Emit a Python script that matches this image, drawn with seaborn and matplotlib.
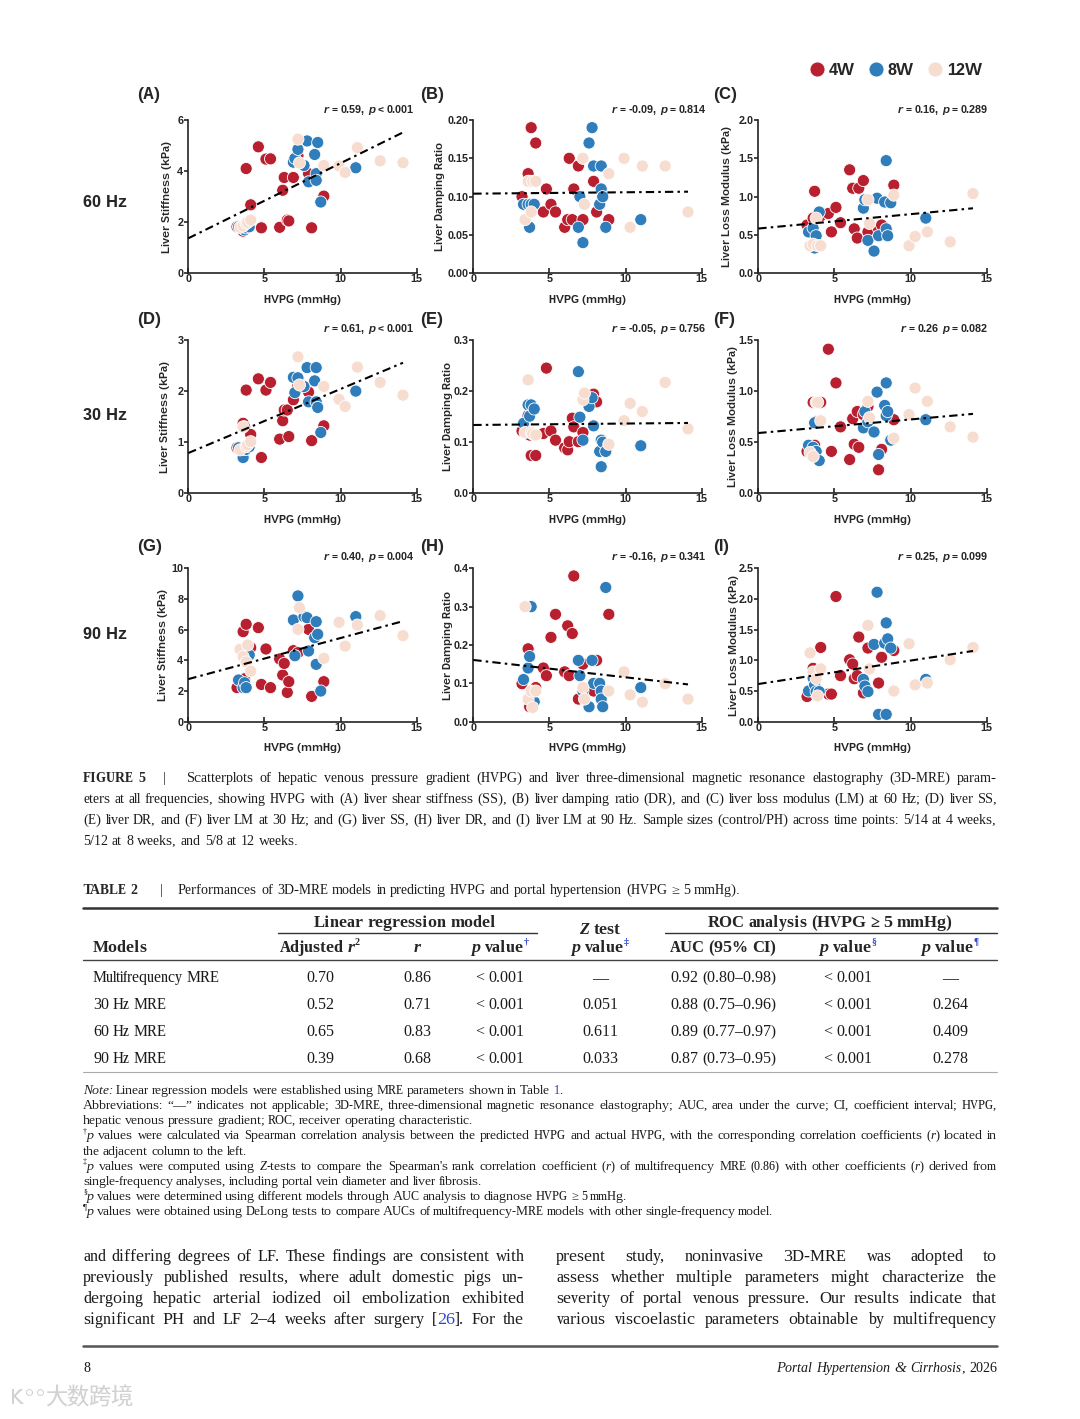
import re
import matplotlib
matplotlib.use("Agg")
import numpy as np
import pandas as pd
import seaborn as sns
import matplotlib.pyplot as plt
from matplotlib.lines import Line2D

# ---------------- data ----------------
# HVPG (mmHg) of each animal, by time point
hvpg_4w = [3.2, 3.6, 3.7, 3.8, 4.1, 4.6, 4.8, 5.1, 5.4, 6.0, 6.2, 6.3, 6.5, 6.6, 6.9, 7.2, 7.9, 8.1, 8.9]
hvpg_8w = [3.3, 3.6, 3.7, 3.8, 4.0, 6.9, 7.0, 7.2, 7.6, 7.8, 7.9, 8.3, 8.4, 8.4, 8.5, 8.7, 11.0]
hvpg_12w = [3.4, 3.6, 3.8, 3.9, 4.1, 7.2, 7.3, 8.9, 9.9, 10.3, 11.1, 12.6, 14.1]

# 60 Hz
ss60_4w = [1.82, 1.65, 1.75, 4.10, 2.68, 4.95, 1.78, 4.47, 4.48, 1.80, 3.25, 3.75, 2.08, 2.05, 3.75, 4.60, 3.90, 1.78, 3.02]
ss60_8w = [1.82, 1.75, 1.70, 1.78, 1.82, 4.35, 4.50, 4.85, 4.22, 5.18, 3.58, 4.65, 3.90, 3.64, 5.12, 2.79, 4.13]
ss60_12w = [1.80, 1.85, 1.96, 2.00, 2.08, 5.25, 4.32, 4.22, 4.20, 3.95, 4.92, 4.40, 4.33]
dr60_4w = [0.10, 0.13, 0.12, 0.19, 0.17, 0.08, 0.11, 0.09, 0.08, 0.06, 0.07, 0.15, 0.07, 0.11, 0.14, 0.07, 0.12, 0.08, 0.07]
dr60_8w = [0.09, 0.09, 0.06, 0.09, 0.09, 0.06, 0.10, 0.04, 0.17, 0.19, 0.14, 0.09, 0.14, 0.11, 0.10, 0.06, 0.07]
dr60_12w = [0.07, 0.12, 0.08, 0.12, 0.12, 0.15, 0.09, 0.13, 0.15, 0.06, 0.14, 0.14, 0.08]
lm60_4w = [0.63, 0.72, 1.07, 0.48, 0.75, 0.78, 0.54, 0.86, 0.66, 1.35, 1.11, 0.58, 0.46, 1.11, 1.21, 0.54, 0.58, 0.63, 1.15]
lm60_8w = [0.54, 0.59, 0.33, 0.49, 0.80, 0.85, 0.96, 0.43, 0.29, 0.98, 0.49, 0.93, 1.47, 0.58, 0.49, 0.92, 0.72]
lm60_12w = [0.36, 0.38, 0.72, 0.36, 0.36, 0.96, 0.65, 1.02, 0.36, 0.48, 0.54, 0.41, 1.04]
# 30 Hz
ss30_4w = [0.89, 1.37, 1.30, 2.02, 1.15, 2.24, 0.70, 2.02, 2.17, 1.06, 1.42, 1.63, 1.63, 1.11, 1.83, 2.10, 1.98, 1.03, 1.32]
ss30_8w = [0.89, 0.70, 0.86, 0.86, 0.91, 2.27, 1.97, 2.26, 2.09, 2.46, 1.79, 2.20, 2.46, 1.79, 1.68, 1.19, 2.00]
ss30_12w = [0.85, 1.30, 0.92, 0.95, 1.01, 2.67, 2.12, 2.09, 1.84, 1.70, 2.47, 2.17, 1.92]
dr30_4w = [0.122, 0.152, 0.114, 0.074, 0.074, 0.117, 0.245, 0.122, 0.104, 0.089, 0.085, 0.101, 0.147, 0.130, 0.101, 0.119, 0.194, 0.179, 0.095]
dr30_8w = [0.137, 0.173, 0.151, 0.173, 0.165, 0.238, 0.149, 0.104, 0.170, 0.187, 0.132, 0.082, 0.104, 0.052, 0.100, 0.082, 0.093]
dr30_12w = [0.119, 0.222, 0.119, 0.116, 0.114, 0.183, 0.196, 0.096, 0.142, 0.176, 0.160, 0.217, 0.126]
lm30_4w = [0.41, 0.89, 0.47, 0.70, 0.89, 1.41, 0.41, 1.08, 0.65, 0.33, 0.73, 0.48, 0.80, 0.45, 0.77, 0.85, 0.23, 0.43, 0.72]
lm30_8w = [0.47, 0.45, 0.69, 0.41, 0.32, 0.64, 0.80, 0.70, 0.60, 0.99, 0.38, 0.86, 1.08, 0.76, 0.80, 0.52, 0.72]
lm30_12w = [0.40, 0.36, 0.89, 0.89, 0.71, 0.90, 0.74, 0.54, 0.77, 1.03, 0.90, 0.65, 0.55]
# 90 Hz
ss90_4w = [2.22, 5.87, 2.80, 6.35, 4.83, 6.13, 2.43, 4.74, 2.22, 4.09, 3.04, 3.80, 1.91, 2.61, 4.63, 4.50, 6.02, 1.65, 2.61]
ss90_8w = [2.72, 2.22, 2.54, 2.22, 4.35, 6.63, 4.30, 8.20, 6.85, 6.78, 4.61, 5.48, 6.52, 3.74, 5.70, 2.00, 6.85]
ss90_12w = [4.72, 4.24, 3.90, 5.00, 3.30, 6.02, 7.43, 4.13, 6.48, 4.93, 6.30, 6.91, 5.61]
dr90_4w = [0.099, 0.190, 0.039, 0.060, 0.089, 0.140, 0.120, 0.220, 0.280, 0.130, 0.250, 0.120, 0.230, 0.380, 0.059, 0.150, 0.080, 0.160, 0.280]
dr90_8w = [0.110, 0.140, 0.170, 0.300, 0.052, 0.160, 0.120, 0.080, 0.039, 0.160, 0.100, 0.100, 0.080, 0.059, 0.039, 0.350, 0.089]
dr90_12w = [0.300, 0.059, 0.080, 0.037, 0.080, 0.089, 0.059, 0.080, 0.130, 0.070, 0.051, 0.099, 0.059]
lm90_4w = [0.41, 0.87, 0.75, 0.45, 1.21, 0.45, 0.45, 2.04, 0.75, 1.01, 0.94, 0.70, 0.75, 1.38, 0.47, 1.20, 0.63, 1.05, 1.16]
lm90_8w = [0.50, 0.71, 0.60, 0.49, 0.49, 0.69, 0.58, 0.49, 1.26, 2.11, 0.12, 1.28, 1.61, 0.12, 1.35, 1.20, 0.69]
lm90_12w = [1.12, 0.81, 0.70, 0.42, 0.86, 1.57, 0.86, 0.50, 1.27, 0.60, 0.63, 1.01, 1.21]

groups = ["4W", "8W", "12W"]
panel_letters = ["(A)", "(B)", "(C)", "(D)", "(E)", "(F)", "(G)", "(H)", "(I)"]
row_labels = ["60 Hz", "30 Hz", "90 Hz"]
y_labels = ["Liver Stiffness (kPa)", "Liver Damping Ratio", "Liver Loss Modulus (kPa)"]
stats = ["*r* = 0.59, *p* < 0.001", "*r* = -0.09, *p* = 0.814", "*r* = 0.16, *p* = 0.289",
         "*r* = 0.61, *p* < 0.001", "*r* = -0.05, *p* = 0.756", "*r* = 0.26 *p* = 0.082",
         "*r* = 0.40, *p* = 0.004", "*r* = -0.16, *p* = 0.341", "*r* = 0.25, *p* = 0.099"]
y_max = [6, 0.20, 2.0, 3, 0.3, 1.5, 10, 0.4, 2.5]
y_step = [2, 0.05, 0.5, 1, 0.1, 0.5, 2, 0.1, 0.5]
y_fmt = ["{:.0f}", "{:.2f}", "{:.1f}", "{:.0f}", "{:.1f}", "{:.1f}", "{:.0f}", "{:.1f}", "{:.1f}"]
panel_values = [
    (ss60_4w, ss60_8w, ss60_12w), (dr60_4w, dr60_8w, dr60_12w), (lm60_4w, lm60_8w, lm60_12w),
    (ss30_4w, ss30_8w, ss30_12w), (dr30_4w, dr30_8w, dr30_12w), (lm30_4w, lm30_8w, lm30_12w),
    (ss90_4w, ss90_8w, ss90_12w), (dr90_4w, dr90_8w, dr90_12w), (lm90_4w, lm90_8w, lm90_12w),
]

# Table 2
models = ["Multifrequency MRE", "30 Hz MRE", "60 Hz MRE", "90 Hz MRE"]
adj_r2 = ["0.70", "0.52", "0.65", "0.39"]
r_vals = ["0.86", "0.71", "0.83", "0.68"]
p_lin = ["< 0.001", "< 0.001", "< 0.001", "< 0.001"]
p_z = ["—", "0.051", "0.611", "0.033"]
auc = ["0.92 (0.80–0.98)", "0.88 (0.75–0.96)", "0.89 (0.77–0.97)", "0.87 (0.73–0.95)"]
p_auc = ["< 0.001", "< 0.001", "< 0.001", "< 0.001"]
p_delong = ["—", "0.264", "0.409", "0.278"]

# ---------------- style ----------------
palette = {"4W": "#B8202F", "8W": "#2F7DBB", "12W": "#F7DDD0"}
LINK = "#2B45D0"
SANS = "Liberation Sans"
SERIF = "Liberation Serif"

sns.set_theme(style="ticks")
plt.rcParams["font.family"] = SANS
plt.rcParams["axes.edgecolor"] = "#222222"
plt.rcParams["text.hinting"] = "default"
plt.rcParams["text.hinting_factor"] = 1

W, H = 1080, 1419
fig = plt.figure(figsize=(W / 100, H / 100), dpi=100)
fig.patch.set_facecolor("white")
renderer = fig.canvas.get_renderer()


def fx(x):
    return x / W


def fy(y):
    return 1 - y / H


# ---------- rich text helpers (pixel coordinates, y from top) ----------
TOKEN = re.compile(r"\*[^*]+\*|#[^#]+#|\{[^}]+\}|\^[^^]+\^|~[^~]+~|[^*#{^~]+")


def split_word(word, base):
    out = []
    for m in TOKEN.findall(word):
        kw, dy, s = dict(base), 0.0, m
        if m[0] in "*#{^~":
            s = m[1:-1]
        if m[0] == "*":
            kw["style"] = "italic"
        elif m[0] == "#":
            kw["weight"] = "bold"
        elif m[0] == "{":
            kw["color"] = LINK
        elif m[0] in "^~":
            kw["size"] = base["size"] * 0.62
            dy = base["size"] * 0.42 * 100 / 72
            if m[0] == "~":
                kw["color"] = LINK
        out.append((s, kw, dy))
    return out


def build(text, base):
    words = []
    for wd in text.split(" "):
        items = []
        for s, kw, dy in split_word(wd, base):
            t = fig.text(0, 0, s, va="baseline", ha="left", **kw)
            items.append([t, t.get_window_extent(renderer).width, dy])
        words.append(items)
    return words


def space(base):
    a = fig.text(0, 0, "n n", **base)
    b = fig.text(0, 0, "nn", **base)
    w = a.get_window_extent(renderer).width - b.get_window_extent(renderer).width
    a.remove()
    b.remove()
    return w


def natural(text, base):
    words = build(text, base)
    total = sum(sum(i[1] for i in wd) for wd in words) + space(base) * (len(words) - 1)
    for wd in words:
        for item in wd:
            item[0].remove()
    return total


def line(x, y, text, ha="left", to=None, **base):
    base.setdefault("size", 10)
    words = build(text, base)
    ww = [sum(i[1] for i in wd) for wd in words]
    gap = space(base)
    if to is not None and len(words) > 1:
        gap = (to - x - sum(ww)) / (len(words) - 1)
    total = sum(ww) + gap * (len(words) - 1)
    if ha == "right":
        x -= total
    elif ha == "center":
        x -= total / 2
    for wd, w in zip(words, ww):
        cx = x
        for t, tw, dy in wd:
            t.set_position((fx(cx), fy(y - dy)))
            cx += tw
        x += w + gap
    return total


def para(x1, y0, step, lines, size, **base):
    base["size"] = size
    scale = 1.0
    for xs, text, just in lines:
        if just:
            scale = min(scale, (x1 - xs) / natural(text, base))
    base["size"] = size * scale
    for k, (xs, text, just) in enumerate(lines):
        line(xs, y0 + k * step, text, to=x1 if just else None, **base)


def hline(x0, x1, y, lw=1.0, color="black"):
    fig.add_artist(Line2D([fx(x0), fx(x1)], [fy(y), fy(y)], lw=lw, color=color))


# ---------------- scatter panels ----------------
col_x = [(188.3, 416.7), (473.3, 701.7), (758.3, 986.7)]
row_y = [(120.0, 273.3), (340.0, 493.3), (568.3, 721.7)]
ylab_x = [-0.07, -0.122, -0.113, -0.08, -0.087, -0.087, -0.09, -0.09, -0.083]
letter_x = [137, 420, 713]
letter_y = [95, 320, 547]
stat_right = [414, 706, 988]
stat_base = [113, 332, 560]
row_label_y = [203, 416, 635]

for i, vals in enumerate(panel_values):
    r, c = divmod(i, 3)
    (x0, x1), (y0, y1) = col_x[c], row_y[r]
    ax = fig.add_axes([fx(x0), fy(y1), (x1 - x0) / W, (y1 - y0) / H])
    df = pd.DataFrame({
        "HVPG": hvpg_4w + hvpg_8w + hvpg_12w,
        "value": list(vals[0]) + list(vals[1]) + list(vals[2]),
        "group": ["4W"] * len(hvpg_4w) + ["8W"] * len(hvpg_8w) + ["12W"] * len(hvpg_12w),
    })
    sns.scatterplot(data=df, x="HVPG", y="value", hue="group", hue_order=groups, palette=palette,
                    s=76, edgecolor="white", linewidth=0.6, legend=False, ax=ax, zorder=3)
    slope, icpt = np.polyfit(df["HVPG"], df["value"], 1)
    xs = np.array([0, df["HVPG"].max()])
    ax.plot(xs, icpt + slope * xs, color="black", lw=1.5, ls=(0, (4, 2, 1.2, 2)), zorder=4)

    ax.set_xlim(0, 15)
    ax.set_ylim(0, y_max[i])
    ax.set_xticks([0, 5, 10, 15])
    yt = np.arange(0, y_max[i] + y_step[i] / 2, y_step[i])
    ax.set_yticks(yt)
    ax.set_yticklabels([y_fmt[i].format(v) for v in yt])
    sns.despine(ax=ax)
    for side in ("left", "bottom"):
        ax.spines[side].set_linewidth(1.2)
    ax.tick_params(axis="y", direction="out", length=3, width=1.2, labelsize=8, pad=0.6)
    ax.tick_params(axis="x", direction="in", length=3.5, width=1.2, labelsize=8, pad=0.8)
    for lab in ax.get_xticklabels() + ax.get_yticklabels():
        lab.set_fontweight("bold")
    ax.set_xlabel("HVPG (mmHg)", fontsize=8.2, fontweight="bold")
    ax.set_ylabel(y_labels[c], fontsize=8.2, fontweight="bold")
    ax.xaxis.set_label_coords(0.5, -0.14)
    ax.yaxis.set_label_coords(ylab_x[i], 0.5)

    fig.text(fx(letter_x[c]), fy(letter_y[r]), panel_letters[i], va="center", ha="left",
             fontsize=12.5, fontweight="bold")
    line(stat_right[c], stat_base[r], stats[i], ha="right", size=8.0, weight="bold", family=SANS)

for r in range(3):
    fig.text(fx(83), fy(row_label_y[r]), row_labels[r], va="center", ha="left",
             fontsize=12, fontweight="bold")

handles = [Line2D([], [], ls="", marker="o", ms=10.8, mfc=palette[g], mec="white", mew=0.6) for g in groups]
fig.legend(handles=handles, labels=groups, loc="center right", bbox_to_anchor=(fx(982), fy(71)),
           ncol=3, frameon=False, handlelength=1.0, handletextpad=0.2, columnspacing=0.8,
           borderpad=0, borderaxespad=0, prop={"weight": "bold", "size": 12, "family": SANS})

# ---------------- figure caption ----------------
cap_y = 782
line(83, cap_y, "FIGURE 5", size=10, weight="bold", family=SERIF)
line(163, cap_y, "|", size=10, family=SERIF)
para(997, cap_y, 21, [
    (186, "Scatterplots of hepatic venous pressure gradient (HVPG) and liver three-dimensional magnetic "
          "resonance elastography (3D-MRE) param-", True),
    (83, "eters at all frequencies, showing HVPG with (A) liver shear stiffness (SS), (B) liver damping ratio "
         "(DR), and (C) liver loss modulus (LM) at 60 Hz; (D) liver SS,", True),
    (83, "(E) liver DR, and (F) liver LM at 30 Hz; and (G) liver SS, (H) liver DR, and (I) liver LM at 90 Hz. "
         "Sample sizes (control/PH) across time points: 5/14 at 4 weeks,", True),
    (83, "5/12 at 8 weeks, and 5/8 at 12 weeks.", False),
], size=10.6, family=SERIF, color="#1a1a1a")

# ---------------- table ----------------
line(83, 894, "TABLE 2", size=10, weight="bold", family=SERIF)
line(160, 894, "|", size=10, family=SERIF)
line(178, 894, "Performances of 3D-MRE models in predicting HVPG and portal hypertension (HVPG ≥ 5 mmHg).",
     size=10.4, family=SERIF, color="#1a1a1a")

hline(83, 997, 908, lw=1.8, color="#333333")
hline(278, 537, 933, lw=1.0, color="#333333")
hline(665, 997, 933, lw=1.0, color="#333333")
hline(83, 997, 960, lw=1.0, color="#444444")
hline(83, 997, 1072, lw=0.8, color="#aaaaaa")

hdr = dict(size=12, weight="bold", family=SERIF)
line(405, 927, "Linear regression model", ha="center", **hdr)
line(830, 927, "ROC analysis (HVPG ≥ 5 mmHg)", ha="center", **hdr)
line(600, 934, "*Z* test", ha="center", **hdr)
line(93, 952, "Models", **hdr)
line(320, 952, "Adjusted *r*^2^", ha="center", **hdr)
line(417, 952, "*r*", ha="center", **hdr)
line(500, 952, "*p* value~†~", ha="center", **hdr)
line(600, 952, "*p* value~‡~", ha="center", **hdr)
line(723, 952, "AUC (95% CI)", ha="center", **hdr)
line(848, 952, "*p* value~§~", ha="center", **hdr)
line(950, 952, "*p* value~¶~", ha="center", **hdr)

cell = dict(size=11.8, family=SERIF, color="#1a1a1a")
col_centers = [320, 417, 500, 600, 723, 848, 950]
for k in range(len(models)):
    yb = 982 + 27 * k
    line(93, yb, models[k], **cell)
    for xc, v in zip(col_centers, [adj_r2[k], r_vals[k], p_lin[k], p_z[k], auc[k], p_auc[k], p_delong[k]]):
        line(xc, yb, v, ha="center", **cell)

# ---------------- table footnotes ----------------
para(997, 1094, 15.15, [
    (83, "*Note:* Linear regression models were established using MRE parameters shown in Table {1}.", False),
    (83, "Abbreviations: “—” indicates not applicable; 3D-MRE, three-dimensional magnetic resonance "
         "elastography; AUC, area under the curve; CI, coefficient interval; HVPG,", True),
    (83, "hepatic venous pressure gradient; ROC, receiver operating characteristic.", False),
    (83, "^†^*p* values were calculated via Spearman correlation analysis between the predicted HVPG and "
         "actual HVPG, with the corresponding correlation coefficients (*r*) located in", True),
    (83, "the adjacent column to the left.", False),
    (83, "^‡^*p* values were computed using *Z*-tests to compare the Spearman's rank correlation coefficient "
         "(*r*) of multifrequency MRE (0.86) with other coefficients (*r*) derived from", True),
    (83, "single-frequency analyses, including portal vein diameter and liver fibrosis.", False),
    (83, "^§^*p* values were determined using different models through AUC analysis to diagnose HVPG ≥ 5 mmHg.", False),
    (83, "^¶^*p* values were obtained using DeLong tests to compare AUCs of multifrequency-MRE models with "
         "other single-frequency model.", False),
], size=9.6, family=SERIF, color="#1a1a1a")

# ---------------- body text ----------------
para(524, 1261, 21, [
    (83, "and differing degrees of LF. These findings are consistent with", True),
    (83, "previously published results, where adult domestic pigs un-", True),
    (83, "dergoing hepatic arterial iodized oil embolization exhibited", True),
    (83, "significant PH and LF 2–4 weeks after surgery [{26}]. For the", True),
], size=12.5, family=SERIF, color="#1a1a1a")
para(997, 1261, 21, [
    (556, "present study, noninvasive 3D-MRE was adopted to", True),
    (556, "assess whether multiple parameters might characterize the", True),
    (556, "severity of portal venous pressure. Our results indicate that", True),
    (556, "various viscoelastic parameters obtainable by multifrequency", True),
], size=12.5, family=SERIF, color="#1a1a1a")

hline(83, 997, 1346, lw=1.8, color="#555555")
line(83, 1372, "8", size=11, family=SERIF, color="#1a1a1a")
line(997, 1372, "*Portal* *Hypertension* *&* *Cirrhosis*, 2026", ha="right", size=10, family=SERIF,
     color="#1a1a1a")

# watermark
fig.text(fx(10), fy(1398), "K°°", va="center", ha="left", fontsize=15, color="#d2d2d2",
         family="DejaVu Sans")
fig.text(fx(45), fy(1398), "大数跨境", va="center", ha="left", fontsize=16, color="#d2d2d2",
         family="Noto Sans CJK SC")

fig.savefig("out.png", dpi=100, facecolor="white")
